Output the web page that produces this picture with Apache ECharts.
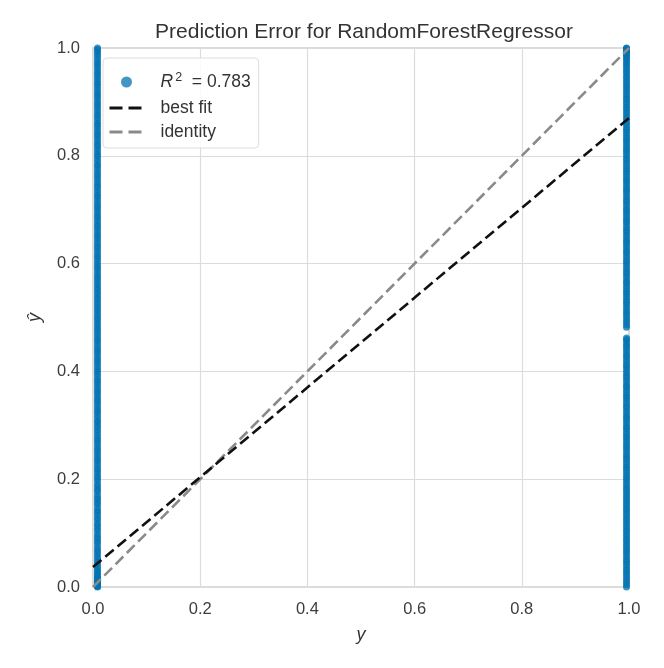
<!DOCTYPE html>
<html>
<head>
<meta charset="utf-8">
<script src="https://cdn.jsdelivr.net/npm/echarts@6/dist/echarts.min.js"></script>
<style>html,body{margin:0;padding:0;background:#fff}#c{width:664px;height:668px}</style>
</head>
<body>
<div id="c"></div>
<script>
const titleText = 'Prediction Error for RandomForestRegressor';
const xTicks = [0.0, 0.2, 0.4, 0.6, 0.8, 1.0];
const yTicks = [0.0, 0.2, 0.4, 0.6, 0.8, 1.0];
const seriesNames = ['R² = 0.783', 'best fit', 'identity'];
const r2Value = '0.783';

// predictions for samples whose actual value is 0
const actualLow = 0;
const predLow = [
0.000,0.001,0.002,0.003,0.005,0.006,0.008,0.010,0.012,0.015,0.017,0.020,0.023,0.027,0.030,0.034,0.038,0.043,0.047,0.052,
0.056,0.061,0.066,0.070,0.075,0.081,0.085,0.090,0.094,0.099,0.105,0.109,0.114,0.118,0.124,0.128,0.133,0.138,0.142,0.147,
0.153,0.157,0.162,0.166,0.171,0.177,0.181,0.186,0.190,0.196,0.201,0.205,0.210,0.215,0.219,0.224,0.229,0.234,0.238,0.243,
0.248,0.253,0.257,0.262,0.267,0.272,0.276,0.281,0.286,0.291,0.296,0.300,0.305,0.309,0.314,0.319,0.324,0.328,0.333,0.338,
0.343,0.347,0.352,0.357,0.362,0.366,0.371,0.376,0.381,0.385,0.390,0.395,0.400,0.404,0.409,0.414,0.419,0.423,0.428,0.433,
0.438,0.442,0.447,0.452,0.457,0.461,0.466,0.471,0.476,0.480,0.485,0.490,0.495,0.499,0.504,0.509,0.514,0.518,0.523,0.528,
0.533,0.537,0.542,0.547,0.552,0.556,0.561,0.566,0.571,0.575,0.580,0.585,0.590,0.594,0.599,0.604,0.609,0.613,0.618,0.623,
0.628,0.632,0.637,0.642,0.647,0.651,0.656,0.661,0.666,0.670,0.675,0.680,0.685,0.689,0.694,0.699,0.704,0.708,0.713,0.718,
0.723,0.727,0.732,0.737,0.742,0.746,0.751,0.756,0.761,0.765,0.770,0.775,0.780,0.784,0.789,0.794,0.799,0.803,0.808,0.813,
0.818,0.822,0.827,0.832,0.837,0.841,0.846,0.851,0.856,0.860,0.865,0.870,0.875,0.879,0.884,0.889,0.894,0.898,0.903,0.908,
0.913,0.917,0.922,0.927,0.932,0.936,0.941,0.946,0.951,0.955,0.960,0.965,0.970,0.974,0.979,0.984,0.989,0.993,0.997,1.000];

// predictions for samples whose actual value is 1
const actualHigh = 1;
const predHigh = [
0.000,0.004,0.009,0.013,0.018,0.023,0.028,0.032,0.037,0.042,0.047,0.051,0.056,0.061,0.066,0.070,0.075,0.080,0.085,0.089,
0.094,0.099,0.104,0.108,0.113,0.118,0.123,0.127,0.132,0.137,0.142,0.146,0.151,0.156,0.161,0.165,0.170,0.175,0.180,0.184,
0.189,0.194,0.199,0.203,0.208,0.213,0.218,0.222,0.227,0.232,0.237,0.241,0.246,0.251,0.256,0.260,0.265,0.270,0.275,0.279,
0.284,0.289,0.294,0.298,0.303,0.308,0.313,0.317,0.322,0.327,0.332,0.336,0.341,0.346,0.351,0.355,0.360,0.365,0.370,0.374,
0.379,0.384,0.389,0.393,0.398,0.403,0.408,0.412,0.417,0.422,0.427,0.431,0.436,0.441,0.446,0.450,0.455,0.459,0.462,
0.482,0.486,0.491,0.496,0.501,0.506,0.510,0.515,0.520,0.525,0.529,0.534,0.539,0.544,0.548,0.553,0.558,0.563,0.567,0.572,0.577,
0.582,0.586,0.591,0.596,0.601,0.605,0.610,0.615,0.620,0.624,0.629,0.634,0.639,0.643,0.648,0.653,0.658,0.662,0.667,0.672,
0.677,0.681,0.686,0.691,0.696,0.700,0.705,0.710,0.715,0.719,0.724,0.729,0.734,0.738,0.743,0.748,0.753,0.757,0.762,0.767,
0.772,0.776,0.781,0.786,0.791,0.795,0.800,0.805,0.810,0.814,0.819,0.824,0.829,0.833,0.838,0.843,0.848,0.852,0.857,0.862,
0.867,0.871,0.876,0.881,0.886,0.890,0.895,0.900,0.905,0.909,0.914,0.919,0.924,0.928,0.933,0.938,0.943,0.947,0.952,0.957,
0.961,0.966,0.970,0.974,0.978,0.982,0.985,0.988,0.991,0.993,0.995,0.997,0.998,0.999,1.000];

// best fit line endpoints and identity line endpoints
const bestFit = [[0, 0.037], [1, 0.870]];
const identity = [[0, 0], [1, 1]];

const lowPoints = predLow.map(v => [actualLow, v]);
const highPoints = predHigh.map(v => [actualHigh, v]);

const FONT = '"Liberation Sans", Arial, sans-serif';
const TXT = '#333333';
const chart = echarts.init(document.getElementById('c'));
chart.setOption({
  backgroundColor: '#ffffff',
  animation: false,
  title: {
    text: titleText,
    left: 359, top: 17, textAlign: 'center',
    textStyle: {fontFamily: FONT, fontSize: 21, fontWeight: 'normal', color: TXT}
  },
  grid: {left: 93, right: 35, top: 48, bottom: 81, show: true, borderColor: '#cfcfcf', borderWidth: 1.5, backgroundColor: '#ffffff'},
  xAxis: {
    type: 'value', min: 0, max: 1, interval: 0.2,
    name: 'y', nameLocation: 'middle', nameGap: 39,
    nameTextStyle: {fontFamily: FONT, fontSize: 18, fontStyle: 'italic', color: TXT},
    axisLine: {show: false}, axisTick: {show: false},
    axisLabel: {fontFamily: FONT, fontSize: 16.5, color: '#3d3d3d', margin: 14, formatter: v => xTicks.find(t => Math.abs(t - v) < 1e-9).toFixed(1)},
    splitLine: {show: true, lineStyle: {color: '#dcdcdc', width: 1.2}}
  },
  yAxis: {
    type: 'value', min: 0, max: 1, interval: 0.2,
    name: 'ŷ', nameLocation: 'middle', nameGap: 49, nameRotate: 90,
    nameTextStyle: {fontFamily: FONT, fontSize: 18, fontStyle: 'italic', color: TXT},
    axisLine: {show: false}, axisTick: {show: false},
    axisLabel: {fontFamily: FONT, fontSize: 16.5, color: '#3d3d3d', margin: 13, formatter: v => yTicks.find(t => Math.abs(t - v) < 1e-9).toFixed(1)},
    splitLine: {show: true, lineStyle: {color: '#dcdcdc', width: 1.2}}
  },
  legend: {
    orient: 'vertical', left: 103, top: 58,
    backgroundColor: 'rgba(255,255,255,0.85)', borderColor: '#dddddd', borderWidth: 1, borderRadius: 4,
    padding: [13, 8, 7, 5], itemGap: 6, itemWidth: 34, itemHeight: 11,
    data: [
      {name: seriesNames[0], icon: 'circle', itemStyle: {color: '#0173B2', opacity: 0.75}},
      {name: seriesNames[1], itemStyle: {opacity: 0}, lineStyle: {color: '#111111', width: 3, type: [13, 6]}},
      {name: seriesNames[2], itemStyle: {opacity: 0}, lineStyle: {color: '#8a8a8a', width: 3, type: [13, 6]}}
    ],
    formatter: function (name) {
      if (name === seriesNames[0]) return '{i|R}{s|2}{n|  = ' + r2Value + '}';
      return '{n|' + name + '}';
    },
    textStyle: {
      fontFamily: FONT, fontSize: 17.5, color: TXT, padding: [0, 0, 0, 12],
      rich: {
        i: {fontFamily: FONT, fontSize: 17.5, fontStyle: 'italic', color: TXT, lineHeight: 20},
        s: {fontFamily: FONT, fontSize: 12.5, color: TXT, padding: [0, 0, 9, 2], lineHeight: 20},
        n: {fontFamily: FONT, fontSize: 17.5, color: TXT, lineHeight: 20}
      }
    }
  },
  series: [
    {
      name: seriesNames[0], type: 'scatter', data: lowPoints, symbol: 'circle', symbolSize: 7,
      symbolOffset: [4.5, 0], clip: false,
      itemStyle: {color: '#0173B2', opacity: 0.75}, z: 2
    },
    {
      name: seriesNames[0], type: 'scatter', data: highPoints, symbol: 'circle', symbolSize: 7,
      symbolOffset: [-2.5, 0], clip: false,
      itemStyle: {color: '#0173B2', opacity: 0.75}, z: 2
    },
    {
      name: seriesNames[1], type: 'line', data: bestFit, symbol: 'none', z: 4,
      lineStyle: {color: '#111111', width: 2.6, type: [11, 5]},
      itemStyle: {color: '#111111'}
    },
    {
      name: seriesNames[2], type: 'line', data: identity, symbol: 'none', z: 3,
      lineStyle: {color: '#8a8a8a', width: 2.6, type: [11, 5]},
      itemStyle: {color: '#8a8a8a'}
    }
  ]
});
</script>
</body>
</html>
